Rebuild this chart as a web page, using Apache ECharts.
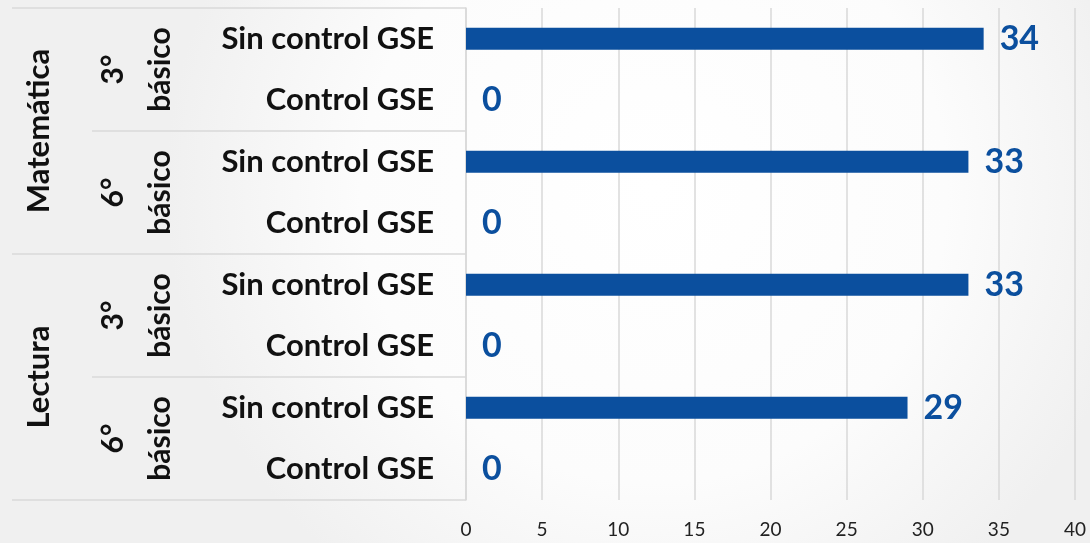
<!DOCTYPE html>
<html>
<head>
<meta charset="utf-8">
<script src="https://cdn.jsdelivr.net/npm/echarts@6/dist/echarts.min.js"></script>
<style>
  html, body { margin: 0; padding: 0; }
  #main { width: 1090px; height: 543px; }
</style>
</head>
<body>
<div id="main"></div>
<script>
// filas (de arriba hacia abajo)
var filas = ['Sin control GSE', 'Control GSE', 'Sin control GSE', 'Control GSE',
             'Sin control GSE', 'Control GSE', 'Sin control GSE', 'Control GSE'];
var niveles = ['3°\nbásico', '6°\nbásico', '3°\nbásico', '6°\nbásico'];
var pruebas = ['Matemática', 'Lectura'];
var valores = [34, 0, 33, 0, 33, 0, 29, 0];

var azul = '#0b4f9e';
var gris = '#d9d9d9';
var fuente = 'Lato';

var chart = echarts.init(document.getElementById('main'));
var option = {
    backgroundColor: {
        type: 'radial', x: 0.6, y: 0.35, r: 0.9,
        colorStops: [{offset: 0, color: '#ffffff'}, {offset: 0.6, color: '#fcfcfc'}, {offset: 1, color: '#f0f0f0'}]
    },
    animation: false,
    grid: {left: 466, right: 15, top: 8, bottom: 43, containLabel: false},
    xAxis: {
        type: 'value',
        min: 0,
        max: 40,
        interval: 5,
        axisLine: {show: false},
        axisTick: {show: false},
        splitLine: {lineStyle: {color: gris, width: 1.5}},
        axisLabel: {color: '#222', fontFamily: fuente, fontSize: 19, margin: 20}
    },
    yAxis: [
        {   // etiquetas de fila
            type: 'category',
            inverse: true,
            data: filas,
            axisLine: {show: true, lineStyle: {color: gris, width: 1.5}},
            axisTick: {show: false},
            axisLabel: {color: '#111', fontFamily: fuente, fontWeight: 'bold', fontSize: 31, margin: 32}
        },
        {   // nivel
            type: 'category',
            inverse: true,
            position: 'left',
            data: niveles,
            axisLine: {show: false},
            axisTick: {show: true, length: 374, lineStyle: {color: gris, width: 1.5}},
            axisLabel: {
                rotate: 90, color: '#111', fontFamily: fuente, fontWeight: 'bold',
                fontSize: 30, lineHeight: 47, margin: 282
            }
        },
        {   // prueba
            type: 'category',
            inverse: true,
            position: 'left',
            data: pruebas,
            axisLine: {show: false},
            axisTick: {show: true, length: 454, lineStyle: {color: gris, width: 1.5}},
            axisLabel: {
                rotate: 90, color: '#111', fontFamily: fuente, fontWeight: 'bold',
                fontSize: 31, margin: 412
            }
        }
    ],
    series: [{
        type: 'bar',
        yAxisIndex: 0,
        data: valores,
        barWidth: 22,
        itemStyle: {color: azul},
        label: {
            show: true,
            position: 'right',
            distance: 16,
            color: azul,
            fontFamily: fuente,
            fontWeight: 'bold',
            fontSize: 34
        }
    }]
};
chart.setOption(option);
</script>
</body>
</html>
